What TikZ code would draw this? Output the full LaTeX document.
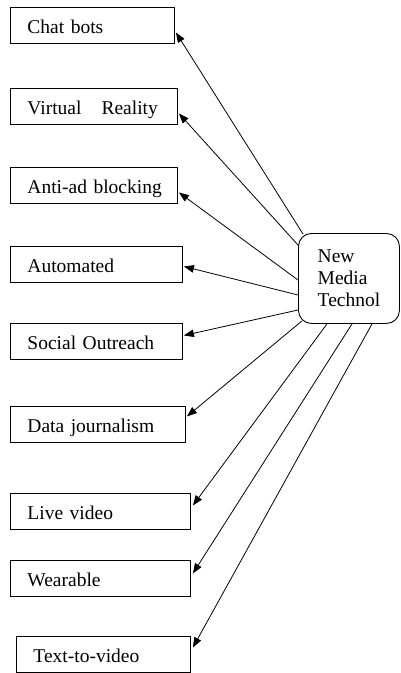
\documentclass[tikz,border=0pt]{standalone}
\usepackage{fontspec}
\setmainfont{Liberation Serif}
\usetikzlibrary{arrows.meta,calc}
\begin{document}
\begin{tikzpicture}[x=1pt,y=-1pt,
  box/.style={draw, line width=0.9pt, anchor=north west, inner xsep=17pt, inner ysep=0pt,
    minimum height=36pt, text height=26pt, text depth=10pt, align=left,
    font=\fontsize{19.5}{22}\selectfont},
  hub/.style={draw, line width=0.9pt, rounded corners=13pt, anchor=north west,
    minimum width=101pt, minimum height=90pt, align=left, inner sep=0pt,
    font=\fontsize{19.5}{22}\selectfont},
  link/.style={line width=0.8pt, -{Triangle[length=10pt,width=7.5pt]}}]
\useasboundingbox (0,0) rectangle (400,673);
\node[box, text width=130pt] (b1) at (10,7) {\mbox{Chat bots}};
\node[box, text width=133pt] (b2) at (10,88) {\mbox{Virtual\hspace{20pt}Reality}};
\node[box, text width=133pt] (b3) at (10,167) {\mbox{Anti-ad blocking}};
\node[box, text width=138pt] (b4) at (10,246) {\mbox{Automated}};
\node[box, text width=138pt] (b5) at (10,323) {\mbox{Social Outreach}};
\node[box, text width=141pt] (b6) at (10,406) {\mbox{Data journalism}};
\node[box, text width=146pt] (b7) at (10,493) {\mbox{Live video}};
\node[box, text width=146pt] (b8) at (10,560) {\mbox{Wearable}};
\node[box, text width=140pt] (b9) at (16,636) {\mbox{Text-to-video}};
\node[hub] (c) at (298,233) {New\\Media\\Technol};
\draw[link] ($(c.north west)+(5,1)$) -- ($(b1.east)+(1,7)$);
\draw[link] ($(c.north west)+(0,12)$) -- ($(b2.east)+(1,7)$);
\draw[link] ($(c.north west)+(0,47)$) -- ($(b3.east)+(1,7)$);
\draw[link] ($(c.north west)+(0,62)$) -- ($(b4.east)+(1,2)$);
\draw[link] ($(c.north west)+(0,77)$) -- ($(b5.east)+(1,-6)$);
\draw[link] ($(c.south west)+(4,-3)$) -- ($(b6.east)+(1,-8)$);
\draw[link] ($(c.south west)+(29,0)$) -- ($(b7.east)+(2,-6)$);
\draw[link] ($(c.south west)+(54,0)$) -- ($(b8.east)+(2,-5)$);
\draw[link] ($(c.south west)+(74,0)$) -- ($(b9.east)+(2,-7)$);
\end{tikzpicture}
\end{document}
